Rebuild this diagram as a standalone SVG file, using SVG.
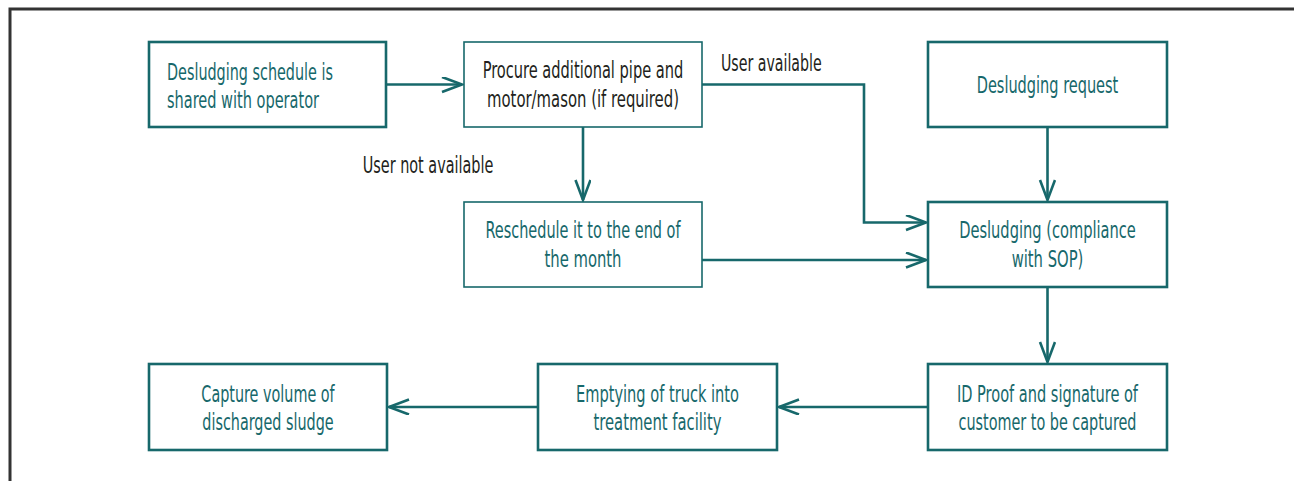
<svg xmlns="http://www.w3.org/2000/svg" width="1294" height="481" viewBox="0 0 1294 481">
  <style>
    .box { fill: #ffffff; stroke: #17686b; stroke-width: 2.6; }
    .box.thin { stroke-width: 1.6; }
    /* condensed face: texts are drawn in a horizontally squeezed space (x = 0.65) */
    .t { font-family: "Liberation Sans Narrow", "DejaVu Sans Condensed", "Liberation Sans", sans-serif; font-size: 23.5px; fill: #17686b; text-anchor: middle; }
    .t.left { text-anchor: start; }
    .t.dark { fill: #231f20; }
    .lbl { font-family: "Liberation Sans Narrow", "DejaVu Sans Condensed", "Liberation Sans", sans-serif; font-size: 23.5px; fill: #231f20; }
    .conn { fill: none; stroke: #17686b; stroke-width: 2.6; marker-end: url(#arrow); }
  </style>
  <defs>
    <marker id="arrow" markerUnits="userSpaceOnUse" markerWidth="24" markerHeight="20" refX="21" refY="8" orient="auto">
      <path d="M1,0.5 L21,8 L1,15.5" fill="none" stroke="#17686b" stroke-width="2.6"/>
    </marker>
  </defs>

  <rect width="1294" height="481" fill="#ffffff"/>
  <!-- frame: left and top edges only -->
  <path d="M10,481 V9 H1294" fill="none" stroke="#333333" stroke-width="3"/>

  <g id="connectors">
    <path class="conn" d="M386,84.5 H462"/>
    <path class="conn" d="M702,84.5 H864 V222.5 H926"/>
    <path class="conn" d="M583,127 V200"/>
    <path class="conn" d="M702,260 H926"/>
    <path class="conn" d="M1047.5,127 V200"/>
    <path class="conn" d="M1047.5,287 V362"/>
    <path class="conn" d="M928,407 H779"/>
    <path class="conn" d="M538,407 H389"/>
  </g>

  <g id="label-user-available">
    <text class="lbl" transform="scale(0.65 1)" x="1109.23" y="71" textLength="154.92" lengthAdjust="spacingAndGlyphs">User available</text>
  </g>
  <g id="label-user-not-available">
    <text class="lbl" transform="scale(0.65 1)" x="558" y="173" textLength="201.08" lengthAdjust="spacingAndGlyphs">User not available</text>
  </g>

  <g id="node-schedule">
    <rect class="box" x="149" y="42" width="237" height="85"/>
    <text class="t left" transform="scale(0.65 1)" x="256.92" y="80" textLength="255.38" lengthAdjust="spacingAndGlyphs">Desludging schedule is</text>
    <text class="t left" transform="scale(0.65 1)" x="256.92" y="108" textLength="233.85" lengthAdjust="spacingAndGlyphs">shared with operator</text>
  </g>

  <g id="node-procure">
    <rect class="box thin" x="464" y="42" width="238" height="85"/>
    <text class="t dark" transform="scale(0.65 1)" x="896.92" y="78" textLength="308.62" lengthAdjust="spacingAndGlyphs">Procure additional pipe and</text>
    <text class="t dark" transform="scale(0.65 1)" x="896.92" y="107" textLength="295.38" lengthAdjust="spacingAndGlyphs">motor/mason (if required)</text>
  </g>

  <g id="node-request">
    <rect class="box" x="928" y="42" width="239" height="85"/>
    <text class="t" transform="scale(0.65 1)" x="1611.54" y="93" textLength="217.85" lengthAdjust="spacingAndGlyphs">Desludging request</text>
  </g>

  <g id="node-reschedule">
    <rect class="box thin" x="464" y="202" width="238" height="85"/>
    <text class="t" transform="scale(0.65 1)" x="896.92" y="238" textLength="300" lengthAdjust="spacingAndGlyphs">Reschedule it to the end of</text>
    <text class="t" transform="scale(0.65 1)" x="896.92" y="267" textLength="118.46" lengthAdjust="spacingAndGlyphs">the month</text>
  </g>

  <g id="node-desludging">
    <rect class="box" x="928" y="202" width="239" height="85"/>
    <text class="t" transform="scale(0.65 1)" x="1611.54" y="238" textLength="271.85" lengthAdjust="spacingAndGlyphs">Desludging (compliance</text>
    <text class="t" transform="scale(0.65 1)" x="1611.54" y="267" textLength="110.31" lengthAdjust="spacingAndGlyphs">with SOP)</text>
  </g>

  <g id="node-id-proof">
    <rect class="box" x="928" y="364" width="239" height="86"/>
    <text class="t" transform="scale(0.65 1)" x="1611.54" y="402" textLength="278.46" lengthAdjust="spacingAndGlyphs">ID Proof and signature of</text>
    <text class="t" transform="scale(0.65 1)" x="1611.54" y="430" textLength="273.85" lengthAdjust="spacingAndGlyphs">customer to be captured</text>
  </g>

  <g id="node-emptying">
    <rect class="box" x="538" y="364" width="239" height="86"/>
    <text class="t" transform="scale(0.65 1)" x="1011.54" y="402" textLength="250.77" lengthAdjust="spacingAndGlyphs">Emptying of truck into</text>
    <text class="t" transform="scale(0.65 1)" x="1011.54" y="430" textLength="196.92" lengthAdjust="spacingAndGlyphs">treatment facility</text>
  </g>

  <g id="node-capture">
    <rect class="box" x="149" y="364" width="238" height="86"/>
    <text class="t" transform="scale(0.65 1)" x="412.31" y="402" textLength="205.08" lengthAdjust="spacingAndGlyphs">Capture volume of</text>
    <text class="t" transform="scale(0.65 1)" x="412.31" y="430" textLength="202" lengthAdjust="spacingAndGlyphs">discharged sludge</text>
  </g>
</svg>
